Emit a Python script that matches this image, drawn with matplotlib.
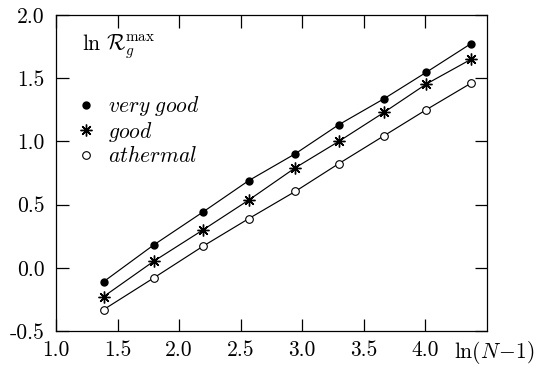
import numpy as np
import matplotlib
matplotlib.use("Agg")
import matplotlib.pyplot as plt
from matplotlib.lines import Line2D

plt.rcParams['font.family'] = 'serif'
plt.rcParams['font.serif'] = ['cmr10', 'DejaVu Serif']
plt.rcParams['mathtext.fontset'] = 'cm'
plt.rcParams['axes.unicode_minus'] = False

x_lnN = [1.386, 1.792, 2.197, 2.565, 2.944, 3.296, 3.664, 4.007, 4.369]
very_good = [-0.11, 0.18, 0.444, 0.69, 0.903, 1.132, 1.338, 1.547, 1.773]
good = [-0.228, 0.051, 0.302, 0.536, 0.792, 1.0, 1.23, 1.454, 1.649]
athermal = [-0.331, -0.081, 0.173, 0.389, 0.605, 0.824, 1.045, 1.251, 1.46]

xticks = [1.0, 1.5, 2.0, 2.5, 3.0, 3.5, 4.0]
xticklabels = ["1.0", "1.5", "2.0", "2.5", "3.0", "3.5", "4.0"]
yticks = [-0.5, 0.0, 0.5, 1.0, 1.5, 2.0]
yticklabels = ["-0.5", "0.0", "0.5", "1.0", "1.5", "2.0"]

fig = plt.figure(figsize=(5.36, 3.67), dpi=100)
ax = fig.add_axes([0.1045, 0.098, 0.804, 0.861])

star = (8, 2, 0)
ax.plot(x_lnN, very_good, color='black', lw=0.85, marker='o', ms=5,
        mfc='black', mec='black')
ax.plot(x_lnN, good, color='black', lw=0.85, marker=star, ms=8.5, mew=1.0,
        mec='black')
ax.plot(x_lnN, athermal, color='black', lw=0.85, marker='o', ms=5.5,
        mfc='white', mec='black', mew=0.8)

ax.set_xlim(1.0, 4.5)
ax.set_ylim(-0.5, 2.0)
ax.set_xticks(xticks)
ax.set_xticklabels(xticklabels)
ax.set_yticks(yticks)
ax.set_yticklabels(yticklabels)
ax.tick_params(direction='in', length=9, width=0.9, top=True, right=True,
               labelsize=15.5)
ax.tick_params(axis='y', pad=8)
ax.tick_params(axis='x', pad=7)
for s in ax.spines.values():
    s.set_linewidth(0.9)

ax.text(0.06, 0.9, r'$\ln\,\mathcal{R}_g^{\max}$', transform=ax.transAxes,
        fontsize=15.5, va='center', ha='left')

handles = [
    Line2D([], [], ls='none', marker='o', ms=5, mfc='black', mec='black'),
    Line2D([], [], ls='none', marker=star, ms=8.5, mew=1.0, mec='black'),
    Line2D([], [], ls='none', marker='o', ms=5.5, mfc='white', mec='black', mew=0.8),
]
labels = [r'$\it{very\ good}$', r'$\it{good}$', r'$\it{athermal}$']
ax.legend(handles, labels, loc='upper left', bbox_to_anchor=(0.045, 0.75),
          frameon=False, fontsize=15.5, handlelength=1.0, handletextpad=0.5,
          labelspacing=0.08, borderaxespad=0, borderpad=0)

fig.text(0.997, 0.04, r'$\ln(N\!-\!1)$', fontsize=15.5, ha='right', va='center')

fig.savefig('out.png', dpi=100)
